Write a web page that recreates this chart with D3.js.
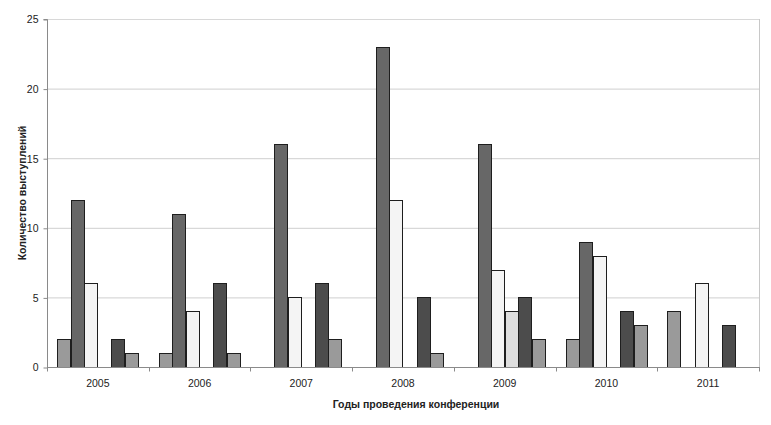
<!DOCTYPE html>
<html><head><meta charset="utf-8">
<script src="https://cdn.jsdelivr.net/npm/d3@7/dist/d3.min.js"></script>
<style>body{margin:0;background:#fff}svg{display:block;font-family:"Liberation Sans",Arial,sans-serif}</style>
</head><body><svg id="c" width="771" height="425"></svg>
<script>
const years = ["2005","2006","2007","2008","2009","2010","2011"];
const series1 = [2,1,0,0,0,2,4];
const series2 = [12,11,16,23,16,9,0];
const series3 = [6,4,5,12,7,8,6];
const series4 = [0,0,0,0,4,0,0];
const series5 = [2,6,6,5,5,4,3];
const series6 = [1,1,2,1,2,3,0];
const yTicks = [0,5,10,15,20,25];
const allSeries = [series1,series2,series3,series4,series5,series6];
const colors = ["#9a9a9a","#676767","#f4f4f4","#dedede","#4c4c4c","#9a9a9a"];
const yTitle = "Количество выступлений";
const xTitle = "Годы проведения конференции";

const svg = d3.select("#c");
const L=47, R=759, T=19, B=367;
const x = d3.scaleBand().domain(years).range([L,R]).paddingInner(0).paddingOuter(0);
const y = d3.scaleLinear().domain([0,25]).range([B,T]);
const inner = d3.scaleBand().domain(d3.range(6)).range([0,x.bandwidth()]).paddingInner(0).paddingOuter(0.75);

// gridlines
svg.append("g").selectAll("line").data(yTicks.filter(d=>d>0)).join("line")
  .attr("x1",L).attr("x2",R).attr("y1",d=>y(d)+0.5).attr("y2",d=>y(d)+0.5)
  .attr("stroke",d=>d===25?"#d8d8d8":"#cfcfcf").attr("stroke-width",1);
// right border
svg.append("line").attr("x1",R+0.5).attr("x2",R+0.5).attr("y1",T).attr("y2",B)
  .attr("stroke","#c8c8c8");

// bars
const g = svg.append("g");
years.forEach((yr,i)=>{
  allSeries.forEach((s,j)=>{
    const v = s[i];
    if(!v) return;
    g.append("rect")
      .attr("x",Math.round(x(yr)+inner(j))+0.5)
      .attr("y",Math.round(y(v))+0.5)
      .attr("width",Math.round(inner.bandwidth())-1)
      .attr("height",Math.round(y(0))-Math.round(y(v)))
      .attr("fill",colors[j]).attr("stroke","#1e1e1e").attr("stroke-width",1);
  });
});

// y axis
const ya = svg.append("g").attr("transform",`translate(${L+0.5},0.5)`)
  .call(d3.axisLeft(y).tickValues(yTicks).tickSize(4).tickPadding(5).tickFormat(d3.format("d")));
ya.select(".domain").attr("stroke","#8a8a8a").attr("d",`M-4,${T}H0V${B}`);
ya.selectAll(".tick line").attr("stroke","#8a8a8a");
ya.selectAll("text").attr("font-size","10.5px").attr("fill","#222").attr("font-family","Liberation Sans, Arial, sans-serif");

// x axis
const xa = svg.append("g").attr("transform",`translate(0,${B+0.5})`);
xa.append("line").attr("x1",L).attr("x2",R+1).attr("y1",0).attr("y2",0).attr("stroke","#8a8a8a");
const bounds = years.map(d=>x(d)).concat([x(years[years.length-1])+x.bandwidth()]);
xa.selectAll("line.t").data(bounds).join("line").attr("class","t")
  .attr("x1",d=>Math.round(d)+0.5).attr("x2",d=>Math.round(d)+0.5).attr("y1",0).attr("y2",4).attr("stroke","#8a8a8a");
xa.selectAll("text").data(years).join("text")
  .attr("x",d=>x(d)+x.bandwidth()/2).attr("y",19)
  .attr("text-anchor","middle").attr("font-size","10.5px").attr("fill","#222").text(d=>d);

// titles
svg.append("text").attr("x",416).attr("y",408).attr("text-anchor","middle")
  .attr("font-size","10.5px").attr("font-weight","bold").attr("fill","#222").text(xTitle);
svg.append("text").attr("transform",`translate(26,${(T+B)/2}) rotate(-90)`).attr("text-anchor","middle")
  .attr("font-size","10.5px").attr("font-weight","bold").attr("fill","#222").text(yTitle);
</script></body></html>
